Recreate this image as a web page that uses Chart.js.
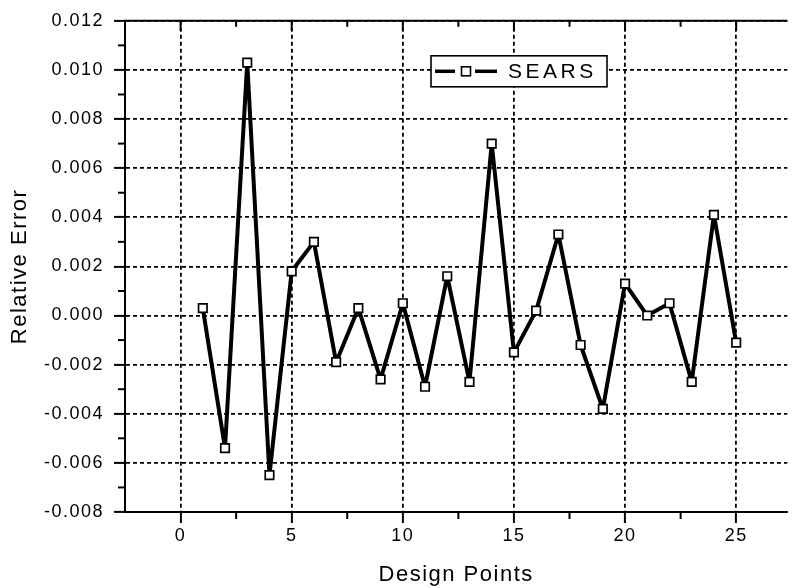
<!DOCTYPE html>
<html>
<head>
<meta charset="utf-8">
<script src="https://cdn.jsdelivr.net/npm/chart.js@4.4.0/dist/chart.umd.min.js"></script>
<style>
    html, body { margin: 0; padding: 0; background: #fff; overflow: hidden; }
</style>
</head>
<body>
<canvas id="myChart" width="795" height="588"></canvas>
<script>
//DATA
const designPoints = [1, 2, 3, 4, 5, 6, 7, 8, 9, 10, 11, 12, 13, 14, 15, 16, 17, 18, 19, 20, 21, 22, 23, 24, 25];
const searsError = [0.0003, -0.0054, 0.0103, -0.0065, 0.0018, 0.0030, -0.0019, 0.0003, -0.0026, 0.0005,
                    -0.0029, 0.0016, -0.0027, 0.0070, -0.0015, 0.0002, 0.0033, -0.0012, -0.0038, 0.0013,
                    0.0000, 0.0005, -0.0027, 0.0041, -0.0011];
const xTicks = [0, 5, 10, 15, 20, 25];
const yTicks = [-0.008, -0.006, -0.004, -0.002, 0.000, 0.002, 0.004, 0.006, 0.008, 0.010, 0.012];

const FONT = 'Liberation Sans, Arial, Helvetica, sans-serif';

//TOP AXIS, MINOR TICKS AND THE BOXED LEGEND
const frameTicks = {
    id: 'frameTicks',
    beforeDraw(chart) {
        chart.ctx.letterSpacing = '1.5px';
    },
    afterDraw(chart) {
        const { ctx, chartArea: a, scales: { x, y } } = chart;
        const seg = (x1, y1, x2, y2) => {
            ctx.beginPath(); ctx.moveTo(x1, y1); ctx.lineTo(x2, y2); ctx.stroke();
        };
        ctx.save();
        ctx.strokeStyle = '#000';
        ctx.lineWidth = 2;
        seg(a.left - 1, a.top, a.right, a.top);

        xTicks.forEach((v, i) => {
            const px = x.getPixelForValue(v);
            seg(px, a.top, px, a.top + 10);
            if (i < xTicks.length - 1) {
                const pm = x.getPixelForValue((v + xTicks[i + 1]) / 2);
                seg(pm, a.top, pm, a.top + 6);
                seg(pm, a.bottom, pm, a.bottom + 7);
            }
        });
        yTicks.forEach((v, i) => {
            if (i < yTicks.length - 1) {
                const pm = y.getPixelForValue((v + yTicks[i + 1]) / 2);
                seg(a.left - 7, pm, a.left, pm);
            }
        });

        // legend box
        const ds = chart.data.datasets[0];
        const bx = a.left + 306, by = a.top + 35, bw = 176, bh = 31;
        const cy = by + bh / 2;
        ctx.fillStyle = '#fff';
        ctx.fillRect(bx, by, bw, bh);
        ctx.lineWidth = 1.6;
        ctx.strokeRect(bx, by, bw, bh);
        ctx.lineWidth = 3.5;
        seg(bx + 4, cy, bx + 24, cy);
        seg(bx + 44, cy, bx + 66, cy);
        ctx.lineWidth = 1.6;
        ctx.strokeRect(bx + 30.5, cy - 4.5, 9, 9);
        ctx.fillStyle = '#000';
        ctx.letterSpacing = '3.5px';
        ctx.font = '21px ' + FONT;
        ctx.textBaseline = 'middle';
        ctx.textAlign = 'left';
        ctx.fillText(ds.label, bx + 77, cy + 1);
        ctx.restore();
    }
};

const ctx = document.getElementById('myChart');

const myChart = new Chart(ctx, {
    type: 'line',
    data: {
        datasets: [{
            label: 'SEARS',
            data: designPoints.map((p, i) => ({ x: p, y: searsError[i] })),
            borderColor: '#000',
            borderWidth: 4,
            borderJoinStyle: 'bevel',
            tension: 0,
            pointStyle: 'rect',
            pointRadius: 6,
            pointBorderWidth: 1.7,
            pointBorderColor: '#000',
            pointBackgroundColor: '#fff'
        }]
    },
    options: {
        responsive: false,
        animation: false,
        devicePixelRatio: 1,
        layout: { padding: { left: 0, right: 0, top: 17, bottom: 0 } },
        plugins: {
            legend: { display: false },
            tooltip: { enabled: false }
        },
        scales: {
            x: {
                type: 'linear',
                min: -2.5,
                max: 27.3,
                afterBuildTicks: (axis) => { axis.ticks = xTicks.map(v => ({ value: v })); },
                afterFit: (axis) => { axis.height = 76; },
                grid: { color: '#000', lineWidth: 1.8, tickLength: 11, tickColor: '#000', tickWidth: 2 },
                border: { display: true, color: '#000', width: 2, dash: [4, 3] },
                ticks: {
                    color: '#000',
                    font: { family: FONT, size: 18 },
                    padding: 2,
                    maxRotation: 0,
                    callback: (v) => String(v)
                },
                title: {
                    display: true,
                    text: 'Design Points',
                    color: '#000',
                    font: { family: FONT, size: 22 },
                    padding: { top: 4, bottom: 0 }
                }
            },
            y: {
                min: -0.008,
                max: 0.012,
                afterBuildTicks: (axis) => { axis.ticks = yTicks.map(v => ({ value: v })); },
                afterFit: (axis) => { axis.width = 125; },
                grid: { color: '#000', lineWidth: 1.8, tickLength: 11, tickColor: '#000', tickWidth: 2 },
                border: { display: true, color: '#000', width: 2, dash: [4, 3] },
                ticks: {
                    color: '#000',
                    font: { family: FONT, size: 18 },
                    padding: 10,
                    callback: (v) => Number(v).toFixed(3)
                },
                title: {
                    display: true,
                    text: 'Relative Error',
                    color: '#000',
                    font: { family: FONT, size: 22 },
                    padding: { top: 7, bottom: 0 }
                }
            }
        }
    },
    plugins: [frameTicks]
});
</script>
</body>
</html>
